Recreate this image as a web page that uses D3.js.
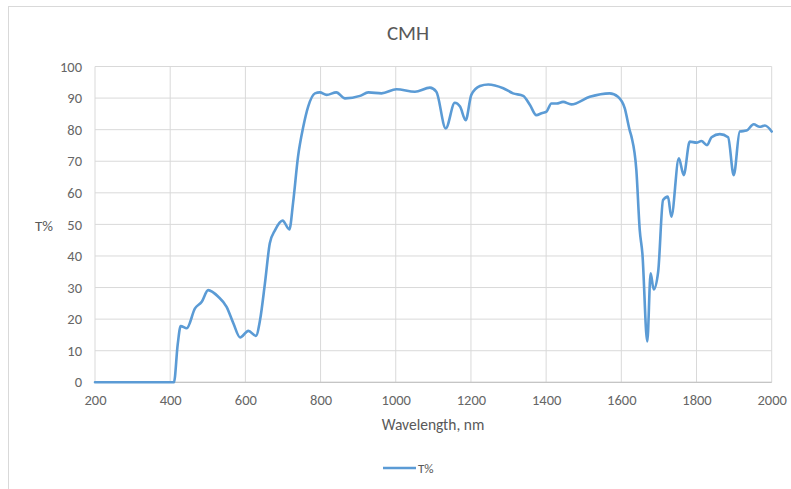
<!DOCTYPE html>
<html><head><meta charset="utf-8">
<script src="https://cdn.jsdelivr.net/npm/d3@7/dist/d3.min.js"></script>
<style>
html,body{margin:0;padding:0;background:#fff;}
svg{display:block;font-family:Calibri,Carlito,"Open Sans",Arial,sans-serif;}
</style></head>
<body>
<svg id="chart" width="791" height="489"></svg>
<script>
const title = "CMH";
const xLabel = "Wavelength, nm";
const yLabel = "T%";
const seriesName = "T%";
const xTicks = [200,400,600,800,1000,1200,1400,1600,1800,2000];
const yTicks = [0,10,20,30,40,50,60,70,80,90,100];
const wavelength = [200,300,400,410,420,428,444,466,484,501,528,550,568,586,608,628,639,652,665,679,699,717,727,740,754,767,785,798,816,842,865,905,927,962,1002,1051,1091,1108,1133,1157,1171,1186,1201,1224,1246,1286,1312,1339,1357,1374,1388,1401,1414,1428,1445,1467,1516,1569,1591,1609,1622,1627,1640,1649,1656,1669,1678,1686,1698,1711,1724,1733,1753,1766,1782,1800,1813,1828,1840,1862,1884,1899,1915,1933,1952,1968,1982,2000];
const transmission = [0,0,0,0,12,17.8,17.1,23.4,25.5,29.2,27.1,23.9,18.7,14.2,16.3,14.7,19.7,31.3,44,48.2,51.2,48.4,57,71.4,80.9,87.3,91.5,91.8,91,91.8,89.9,90.7,91.8,91.5,92.8,92.0,93.3,92,80.4,88.5,87.3,83,91,93.8,94.3,93.1,91.5,90.7,87.8,84.6,85.2,85.7,88.3,88.3,88.8,88,90.4,91.5,90.4,86.8,79.9,77.8,67.2,48.2,40.8,12.9,34.5,29.4,35,57.7,58.8,52.4,70.9,65.6,76.2,75.9,76.4,75.1,77.6,78.6,77.6,65.6,79.4,79.7,81.7,80.9,81.3,79.4];

const svg = d3.select("#chart");
const W = 791, H = 489;
const FONT = 'Calibri,Carlito,"Open Sans",Arial,sans-serif';
const m = {left:95, right:W-771.7, top:66.5, bottom:H-382.3};
const x = d3.scaleLinear().domain([200,2000]).range([m.left, W-m.right]);
const y = d3.scaleLinear().domain([0,100]).range([H-m.bottom, m.top]);

// outer chart border
svg.append("rect").attr("x",8.5).attr("y",6.5).attr("width",W).attr("height",H)
  .attr("fill","none").attr("stroke","#d9d9d9").attr("stroke-width",1);

// gridlines
svg.append("g").selectAll("line").data(yTicks).join("line")
  .attr("x1",x(200)).attr("x2",x(2000)).attr("y1",d=>y(d)).attr("y2",d=>y(d))
  .attr("stroke","#d9d9d9").attr("stroke-width",1);
svg.append("g").selectAll("line").data(xTicks).join("line")
  .attr("y1",y(0)).attr("y2",y(100)).attr("x1",d=>x(d)).attr("x2",d=>x(d))
  .attr("stroke","#d9d9d9").attr("stroke-width",1);
svg.append("line").attr("x1",x(200)).attr("x2",x(2000)).attr("y1",y(0)).attr("y2",y(0))
  .attr("stroke","#bfbfbf").attr("stroke-width",1);

const xAxis = svg.append("g").attr("transform",`translate(0,${y(0)})`)
  .call(d3.axisBottom(x).tickValues(xTicks).tickSize(0).tickPadding(12).tickFormat(d3.format("d")));
const yAxis = svg.append("g").attr("transform",`translate(${x(200)},0)`)
  .call(d3.axisLeft(y).tickValues(yTicks).tickSize(0).tickPadding(13).tickFormat(d3.format("d")));
[xAxis,yAxis].forEach(a=>{
  a.select(".domain").remove();
  a.selectAll("text").attr("fill","#666666").style("font-size","14.5px").style("font-family",FONT);
});

const data = wavelength.map((w,i)=>({w, t:transmission[i]}));
svg.append("path").datum(data)
  .attr("fill","none").attr("stroke","#5b9bd5").attr("stroke-width",2.6)
  .attr("stroke-linejoin","round").attr("stroke-linecap","round")
  .attr("d", d3.line().x(d=>x(d.w)).y(d=>y(d.t)).curve(d3.curveMonotoneX));

svg.append("text").attr("x",408).attr("y",40).attr("text-anchor","middle")
  .attr("fill","#595959").style("font-size","21px").style("font-family",FONT).text(title);
svg.append("text").attr("x",433).attr("y",430).attr("text-anchor","middle")
  .attr("fill","#595959").style("font-size","15.5px").style("font-family",FONT).text(xLabel);
svg.append("text").attr("x",44).attr("y",231).attr("text-anchor","middle")
  .attr("fill","#595959").style("font-size","15px").style("font-family",FONT).text(yLabel);

svg.append("line").attr("x1",383).attr("x2",416).attr("y1",468).attr("y2",468)
  .attr("stroke","#5b9bd5").attr("stroke-width",2.6);
svg.append("text").attr("x",418).attr("y",473).attr("fill","#595959")
  .style("font-size","13px").style("font-family",FONT).text(seriesName);
</script>
</body></html>
